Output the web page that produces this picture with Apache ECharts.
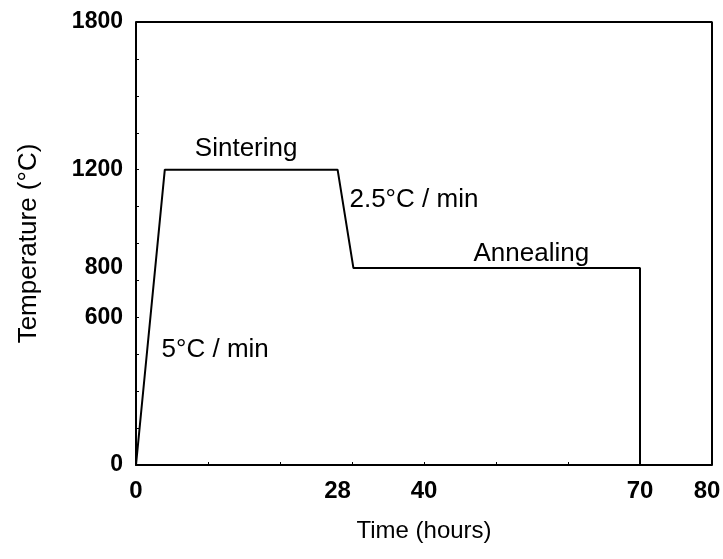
<!DOCTYPE html>
<html>
<head>
<meta charset="utf-8">
<script src="https://cdn.jsdelivr.net/npm/echarts@6/dist/echarts.min.js"></script>
<style>
  html, body { margin: 0; padding: 0; background: #fff; }
  #chart { width: 723px; height: 559px; }
</style>
</head>
<body>
<div id="chart"></div>
<script>
// firing schedule: time (h) vs temperature (°C)
var timeHours = [0, 4, 28, 30.2, 70, 70];
var temperature = [0, 1200, 1200, 800, 800, 0];

var xTickLabels = [0, 28, 40, 70, 80];
var yTickLabels = [0, 600, 800, 1200, 1800];

var noteText = ['Sintering', '2.5°C / min', 'Annealing', '5°C / min'];
var noteTime = [15.3, 38.6, 54.9, 11.0];
var noteTemp = [1284, 1077, 857, 467];

var font = 'Liberation Sans, Arial, sans-serif';

var chart = echarts.init(document.getElementById('chart'));

var option = {
  animation: false,
  grid: { left: 136, top: 22, right: 11, bottom: 94, outerBoundsMode: 'none' },
  xAxis: {
    type: 'value',
    min: 0, max: 80, interval: 10,
    name: 'Time (hours)',
    nameLocation: 'middle',
    nameGap: 54,
    nameTextStyle: { fontFamily: font, fontSize: 24, color: '#000' },
    axisLine: { lineStyle: { color: '#000', width: 2 } },
    axisTick: { inside: true, length: 3, lineStyle: { color: '#000' } },
    axisLabel: {
      customValues: xTickLabels,
      fontFamily: font, fontSize: 24, fontWeight: 'bold', color: '#000', margin: 14,
      formatter: function (v) { return v === 80 ? '{last|' + v + '}' : String(v); },
      rich: {
        last: { fontFamily: font, fontSize: 24, fontWeight: 'bold', color: '#000', padding: [0, 10, 0, 0] }
      }
    },
    splitLine: { show: false }
  },
  yAxis: {
    type: 'value',
    min: 0, max: 1800, interval: 150,
    name: 'Temperature (°C)',
    nameLocation: 'middle',
    nameGap: 94,
    nameTextStyle: { fontFamily: font, fontSize: 26, color: '#000' },
    axisLine: { show: true, lineStyle: { color: '#000', width: 2 } },
    axisTick: { inside: true, length: 3, lineStyle: { color: '#000' } },
    axisLabel: {
      customValues: yTickLabels,
      fontFamily: font, fontSize: 23, fontWeight: 'bold', color: '#000', margin: 13,
      formatter: function (v) { return String(v); }
    },
    splitLine: { show: false }
  },
  series: [
    {
      type: 'line',
      data: timeHours.map(function (t, i) { return [t, temperature[i]]; }),
      symbol: 'none',
      lineStyle: { color: '#000', width: 2 },
      markPoint: {
        symbol: 'circle',
        symbolSize: 0,
        label: {
          show: true, position: 'inside',
          fontFamily: font, fontSize: 26, color: '#000',
          formatter: function (p) { return p.name; }
        },
        data: noteText.map(function (s, i) {
          return { name: s, coord: [noteTime[i], noteTemp[i]], value: 0 };
        })
      }
    },
    {
      // frame: top and right edges
      type: 'line',
      data: [[0, 1800], [80, 1800], [80, 0]],
      symbol: 'none',
      silent: true,
      lineStyle: { color: '#000', width: 2 }
    }
  ]
};

chart.setOption(option);
</script>
</body>
</html>
